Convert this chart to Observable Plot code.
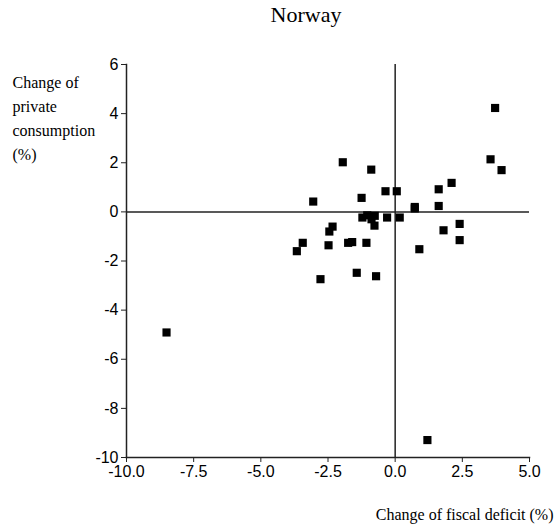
<!DOCTYPE html>
<html>
<head>
<meta charset="utf-8">
<script src="https://cdn.jsdelivr.net/npm/d3@7"></script>
<script src="https://cdn.jsdelivr.net/npm/@observablehq/plot@0.6"></script>
<style>
  html, body { margin: 0; padding: 0; background: #fff; }
  #wrap { position: relative; width: 560px; }
  #title { position: relative; height: 40px; }
  #title span { position: absolute; left: 306px; top: 2px; transform: translateX(-50%);
    font-family: "Liberation Serif", "Times New Roman", serif; font-size: 22px; color: #000; }
</style>
</head>
<body>
<div id="wrap">
  <div id="title"><span>Norway</span></div>
  <div id="chart"></div>
</div>
<script>
const title = "Norway";
const xLabel = "Change of fiscal deficit (%)";
const yLabel = "Change of\nprivate\nconsumption\n(%)";

const fiscalDeficit = [3.72, 3.55, 3.96, 2.10, 1.62, 1.62, 0.73, 0.73, 0.06, -0.36,
  -0.89, -1.95, -1.25, -3.05, 0.17, -0.30, -1.22, -1.04, -0.76, -0.88,
  -0.77, -2.33, -2.45, -3.44, -3.66, -2.48, -1.75, -1.60, -1.07, -2.78,
  -1.43, -0.71, 0.90, 1.80, 2.40, 2.40, -8.51, 1.20];
const privateConsumption = [4.23, 2.14, 1.70, 1.18, 0.92, 0.24, 0.20, 0.14, 0.84, 0.84,
  1.72, 2.02, 0.57, 0.42, -0.23, -0.23, -0.23, -0.14, -0.16, -0.30,
  -0.56, -0.60, -0.80, -1.26, -1.60, -1.36, -1.26, -1.23, -1.26, -2.74,
  -2.48, -2.62, -1.52, -0.75, -0.49, -1.15, -4.91, -9.29];

const xTicks = [-10, -7.5, -5, -2.5, 0, 2.5, 5];
const yTicks = [-10, -8, -6, -4, -2, 0, 2, 4, 6];

const data = fiscalDeficit.map((x, i) => ({x, y: privateConsumption[i]}));
const hy = (s) => s.replace("\u2212", "-");
const fmtX = d => (d < 0 ? "-" : "") + Math.abs(d).toFixed(1);
const fmtY = d => (d < 0 ? "-" : "") + Math.abs(d).toFixed(0);

const sans = "'Liberation Sans', Arial, sans-serif";
const serif = "'Liberation Serif', 'Times New Roman', serif";

const plot = Plot.plot({
  width: 560,
  height: 491,
  marginLeft: 126,
  marginRight: 31,
  marginTop: 24,
  marginBottom: 74,
  style: {fontFamily: sans, fontSize: "16px", color: "#000", background: "#fff"},
  x: {domain: [-10, 5], ticks: xTicks, tickFormat: fmtX, label: null, tickSize: 5, tickPadding: 3},
  y: {domain: [-10, 6], ticks: yTicks, tickFormat: fmtY, label: null, tickSize: 5, tickPadding: 3},
  marks: [
    Plot.ruleX([0], {stroke: "#222", strokeWidth: 1.5}),
    Plot.ruleY([0], {stroke: "#222", strokeWidth: 1.5}),
    Plot.frame({anchor: "left", stroke: "#222", strokeWidth: 1.5}),
    Plot.frame({anchor: "bottom", stroke: "#222", strokeWidth: 1.5}),
    Plot.axisX({ticks: xTicks, tickFormat: fmtX, label: null, tickSize: 5, tickPadding: 3, stroke: "#222", fill: "#000", fontSize: 16}),
    Plot.axisY({ticks: yTicks, tickFormat: fmtY, label: null, tickSize: 5, tickPadding: 3, stroke: "#222", fill: "#000", fontSize: 16}),
    Plot.dot(data, {x: "x", y: "y", symbol: "square", r: 4.6, fill: "#000", stroke: "none"}),
    Plot.text([xLabel], {frameAnchor: "bottom-right", text: d => d, dx: 24, dy: 62, textAnchor: "end", lineAnchor: "bottom", fontFamily: serif, fontSize: 16, fill: "#000"}),
    Plot.text([yLabel], {frameAnchor: "top-left", text: d => d, dx: -114, dy: 6, textAnchor: "start", lineAnchor: "top", lineHeight: 1.5, fontFamily: serif, fontSize: 16, fill: "#000"})
  ]
});
document.getElementById("chart").appendChild(plot);
</script>
</body>
</html>
